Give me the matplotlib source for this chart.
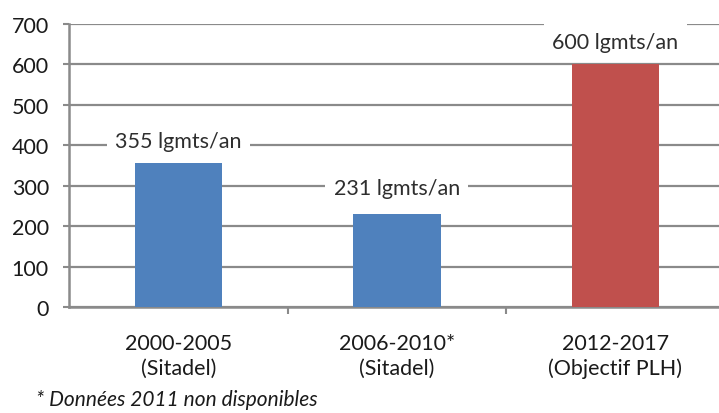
import numpy as np
import matplotlib.pyplot as plt

periods = ['2000-2005\n(Sitadel)', '2006-2010*\n(Sitadel)', '2012-2017\n(Objectif PLH)']
logements = [355, 231, 600]
bar_colors = ['#4F81BD', '#4F81BD', '#C0504D']
footnote = '* Données 2011 non disponibles'

plt.rcParams['font.family'] = ['Lato', 'DejaVu Sans']

fig = plt.figure(figsize=(7.19, 4.14), dpi=100)
ax = fig.add_axes([0.096, 0.256, 0.912, 0.684])

x = np.arange(len(logements))
ax.bar(x, logements, width=0.4, color=bar_colors, zorder=3)

ax.set_xlim(-0.5, 2.5)
ax.set_ylim(0, 700)
ax.set_yticks(np.arange(0, 701, 100))
ax.yaxis.grid(True, color='#8a8a8a', linewidth=1.6, zorder=0)
ax.set_axisbelow(True)

# category separators as minor ticks, labels centred under bars
ax.set_xticks(x)
ax.set_xticklabels(periods, fontsize=15.5, linespacing=1.25, color='#1a1a1a')
ax.tick_params(axis='x', which='major', length=0, pad=19)
ax.set_xticks([0.5, 1.5], minor=True)
ax.tick_params(axis='x', which='minor', length=5, width=1.5, color='#8a8a8a')
ax.tick_params(axis='y', length=4.5, width=1.5, color='#8a8a8a', labelsize=15.5,
               labelcolor='#1a1a1a', pad=10)

for side in ['top', 'right']:
    ax.spines[side].set_visible(False)
for side in ['left', 'bottom']:
    ax.spines[side].set_color('#8a8a8a')
    ax.spines[side].set_linewidth(1.8)

label_y = [410, 295, 655]
for xi, v, ly in zip(x, logements, label_y):
    ax.text(xi, ly, f'{v} lgmts/an', ha='center', va='center', fontsize=15.5,
            color='#2e2e2e', zorder=4,
            bbox=dict(facecolor='white', edgecolor='none', pad=6))

fig.text(0.05, 0.02, footnote, fontsize=15, style='italic', color='#1a1a1a')

fig.savefig('out.png', dpi=100)
